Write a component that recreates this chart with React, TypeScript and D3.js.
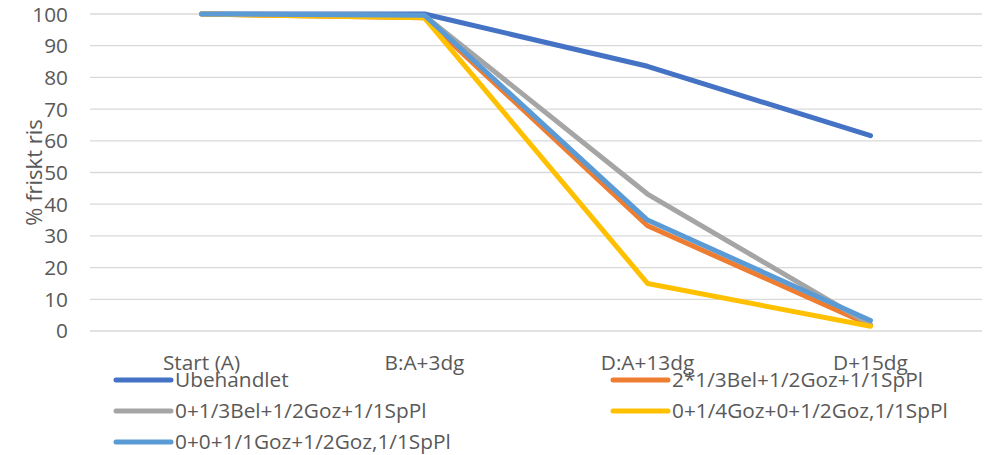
import React from "react";
import * as d3 from "d3";

const categories = ["Start (A)", "B:A+3dg", "D:A+13dg", "D+15dg"];
const seriesNames = [
  "Ubehandlet",
  "2*1/3Bel+1/2Goz+1/1SpPl",
  "0+1/3Bel+1/2Goz+1/1SpPl",
  "0+1/4Goz+0+1/2Goz,1/1SpPl",
  "0+0+1/1Goz+1/2Goz,1/1SpPl",
];
const ubehandlet = [100, 100, 83.5, 61.6];
const bel2 = [100, 98.8, 33.2, 1.8];
const bel0 = [100, 99.5, 43.2, 2];
const goz4 = [100, 98.8, 15, 1.5];
const goz1 = [100, 99.6, 35, 3.3];
const seriesValues = [ubehandlet, bel2, bel0, goz4, goz1];
const colors = ["#4472C4", "#ED7D31", "#A5A5A5", "#FFC000", "#5B9BD5"];
const yTicks = [0, 10, 20, 30, 40, 50, 60, 70, 80, 90, 100];

const W = 990;
const H = 455;
const plotLeft = 90;
const plotRight = 982;
const plotTop = 14;
const plotBottom = 331;
const font = "'Open Sans', sans-serif";
const textColor = "#595959";
const fs = 20.8;

export default function App() {
  const x = d3.scalePoint<string>().domain(categories).range([plotLeft, plotRight]).padding(0.5);
  const y = d3.scaleLinear().domain([0, 100]).range([plotBottom, plotTop]);
  const line = d3
    .line<number>()
    .x((_, i) => x(categories[i]) as number)
    .y((d) => y(d));

  const legendPos = [
    { lx: 116, ly: 380 },
    { lx: 613, ly: 380 },
    { lx: 116, ly: 411 },
    { lx: 613, ly: 411 },
    { lx: 116, ly: 442 },
  ];

  return (
    <svg
      width={W}
      height={H}
      style={{ position: "absolute", left: 0, top: 0, background: "#fff" }}
      fontFamily={font}
    >
      <rect width={W} height={H} fill="#fff" />
      {yTicks.map((t) => (
        <g key={t}>
          <line x1={plotLeft} x2={plotRight} y1={y(t)} y2={y(t)} stroke="#d9d9d9" strokeWidth={1.3} />
          <text x={68} y={y(t)} dy="0.36em" textAnchor="end" fontSize={fs} fill={textColor}>
            {t}
          </text>
        </g>
      ))}
      <text
        transform={`translate(42,${(plotTop + plotBottom) / 2}) rotate(-90)`}
        textAnchor="middle"
        fontSize={22}
        fill={textColor}
      >
        % friskt ris
      </text>
      {categories.map((c) => (
        <text key={c} x={x(c)} y={370} textAnchor="middle" fontSize={fs} fill={textColor}>
          {c}
        </text>
      ))}
      {seriesValues.map((vals, i) => (
        <path
          key={seriesNames[i]}
          d={line(vals) || ""}
          fill="none"
          stroke={colors[i]}
          strokeWidth={5}
          strokeLinejoin="round"
          strokeLinecap="round"
        />
      ))}
      {seriesNames.map((name, i) => (
        <g key={name}>
          <line
            x1={legendPos[i].lx}
            x2={legendPos[i].lx + 55}
            y1={legendPos[i].ly}
            y2={legendPos[i].ly}
            stroke={colors[i]}
            strokeWidth={5}
            strokeLinecap="round"
          />
          <text x={legendPos[i].lx + 59} y={legendPos[i].ly} dy="0.36em" fontSize={fs} fill={textColor}>
            {name}
          </text>
        </g>
      ))}
    </svg>
  );
}
